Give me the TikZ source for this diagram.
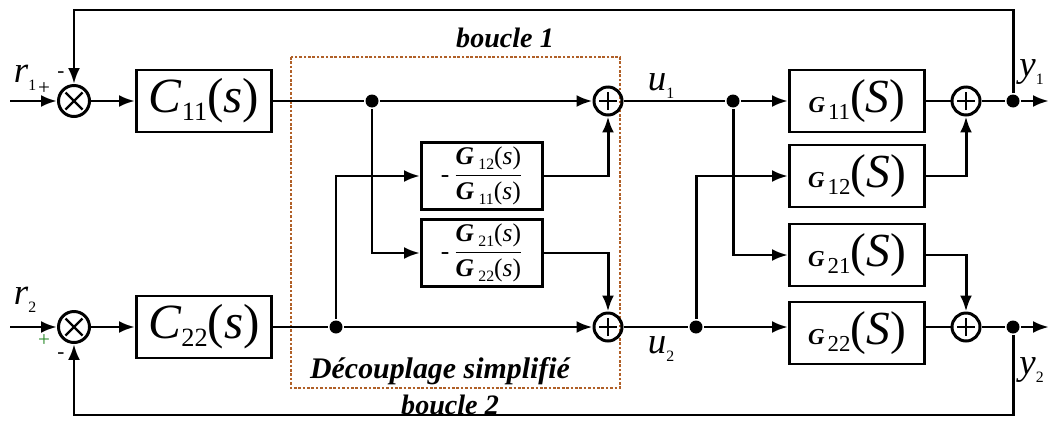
\documentclass[tikz,border=0pt]{standalone}
\usepackage{amsmath}
\usepackage{fontspec}
\setmainfont{Liberation Serif}
\usetikzlibrary{arrows.meta, positioning, calc}

\definecolor{decoup}{RGB}{176,96,40}
\newcommand{\cbig}[1]{{\fontsize{28}{28}\selectfont\textit{C}\raisebox{-0.35ex}{\fontsize{15}{15}\selectfont #1}(\textit{s})}}
\newcommand{\gbig}[1]{{\fontsize{13}{13}\selectfont\bfseries\itshape G}\,\raisebox{-0.9ex}{\fontsize{13}{13}\selectfont #1}{\fontsize{27}{27}\selectfont(\textit{S})}}
\newcommand{\gsmall}[1]{{\bfseries\itshape G}\,\raisebox{-0.4ex}{\fontsize{9}{9}\selectfont #1}(\textit{s})}
\newcommand{\sig}[2]{\textit{#1}\raisebox{-0.45ex}{\fontsize{9}{9}\selectfont #2}}

\begin{document}
\begin{tikzpicture}[
    x=0.2mm, y=-0.2mm,
    >={Latex[length=3.2mm,width=2.4mm]},
    line width=1.7pt,
    block/.style={draw, rectangle, minimum width=27mm, minimum height=12.4mm, inner sep=0pt},
    decblock/.style={draw, rectangle, minimum width=24.2mm, minimum height=13.4mm, inner sep=0pt,
      font=\fontsize{14.5}{14.5}\selectfont},
    mult/.style={draw, circle, minimum size=6.2mm, inner sep=0pt,
      path picture={\draw[line width=1.4pt]
        ($(path picture bounding box.center)+(-1.7mm,-1.7mm)$) -- ++(3.4mm,3.4mm)
        ($(path picture bounding box.center)+(-1.7mm,1.7mm)$) -- ++(3.4mm,-3.4mm);}},
    sum/.style={draw, circle, minimum size=5.6mm, inner sep=0pt,
      path picture={\draw[line width=1.4pt]
        ($(path picture bounding box.center)+(-1.8mm,0)$) -- ++(3.6mm,0)
        ($(path picture bounding box.center)+(0,-1.8mm)$) -- ++(0,3.6mm);}},
    dot/.style={circle, fill, inner sep=0pt, minimum size=2.6mm},
    lbl/.style={font=\fontsize{16}{16}\selectfont\bfseries\itshape},
    sgl/.style={font=\fontsize{21}{21}\selectfont}
  ]
  \useasboundingbox (0,0) rectangle (1049,422);

  % --- cadre du decouplage ---
  \draw[decoup, line width=1.5pt, densely dotted] (291,57) rectangle (620,388);
  \node[lbl] (b1) at (505,38) {boucle 1};
  \node[lbl, font=\fontsize{17}{17}\selectfont\bfseries\itshape] (dec) at (440,371) {Découplage simplifié};
  \node[lbl] (b2) at (450,405) {boucle 2};

  % --- correcteurs ---
  \coordinate (r1in) at (10,101);
  \coordinate (r2in) at (10,327);
  \node[mult] (sumA) at (74,101) {};
  \node[mult] (sumB) at (74,327) {};
  \node[block] (c11) at (204,101) {\cbig{11}};
  \node[block] (c22) at (204,327) {\cbig{22}};

  % --- decouplage ---
  \node[decblock] (d12) at (482,176) {-\,$\dfrac{\mbox{\gsmall{12}}}{\mbox{\gsmall{11}}}$};
  \node[decblock] (d21) at (482,253) {-\,$\dfrac{\mbox{\gsmall{21}}}{\mbox{\gsmall{22}}}$};
  \node[sum] (addA) at (608,101) {};
  \node[sum] (addB) at (608,327) {};
  \node[dot] (jA1) at (372,101) {};
  \node[dot] (jB1) at (336,327) {};

  % --- procede ---
  \node[block] (g11) at (857,101) {\gbig{11}};
  \node[block] (g12) at (857,176) {\gbig{12}};
  \node[block] (g21) at (857,255) {\gbig{21}};
  \node[block] (g22) at (857,333) {\gbig{22}};
  \node[sum] (outA) at (966,101) {};
  \node[sum] (outB) at (966,327) {};
  \node[dot] (jA2) at (733,101) {};
  \node[dot] (jB2) at (696,327) {};
  \node[dot] (yA) at (1013,101) {};
  \node[dot] (yB) at (1013,327) {};
  \coordinate (y1end) at (1049,101);
  \coordinate (y2end) at (1049,327);
  \coordinate (topline) at (0,10);
  \coordinate (botline) at (0,415);

  % --- conexions ---
  \draw[->] (r1in) -- (sumA);
  \draw[->] (r2in) -- (sumB);
  \draw[->] (sumA) -- (c11);
  \draw[->] (sumB) -- (c22);
  \draw (c11) -- (jA1);
  \draw[->] (jA1) -- (addA);
  \draw (c22) -- (jB1);
  \draw[->] (jB1) -- (addB);
  \draw[->] (jA1) |- (d21.west);
  \draw[->] (jB1) |- (d12.west);
  \draw[->] (d12.east) -| (addA.south);
  \draw[->] (d21.east) -| (addB.north);
  \draw (addA) -- (jA2);
  \draw (addB) -- (jB2);
  \draw[->] (jA2) -- (g11);
  \draw[->] (jB2) -- (jB2 -| g22.west);
  \draw[->] (jA2) |- (g21.west);
  \draw[->] (jB2) |- (g12.west);
  \draw (g11) -- (outA);
  \draw (g22.east |- outB) -- (outB);
  \draw[->] (g12.east) -| (outA.south);
  \draw[->] (g21.east) -| (outB.north);
  \draw (outA) -- (yA);
  \draw (outB) -- (yB);
  \draw[->] (yA) -- (y1end);
  \draw[->] (yB) -- (y2end);
  \draw[->] (yA) -- (yA |- topline) -| (sumA.north);
  \draw[->] (yB) -- (yB |- botline) -| (sumB.south);

  % --- etiquettes ---
  \node[sgl] (r1) at (25,78) {\sig{r}{1}};
  \node[sgl] (r2) at (25,300) {\sig{r}{2}};
  \node[font=\large] (pA) at (44,89) {+};
  \node[font=\large] (mA) at (61,75) {-};
  \node[font=\large, text=black!45!green!70!gray] (pB) at (44,341) {+};
  \node[font=\large] (mB) at (61,356) {-};
  \node[sgl] (u1) at (661,86) {\sig{u}{1}};
  \node[sgl] (u2) at (661,349) {\sig{u}{2}};
  \node[sgl, anchor=east] (y1) at (1051,72) {\sig{y}{1}};
  \node[sgl, anchor=east] (y2) at (1051,370) {\sig{y}{2}};
\end{tikzpicture}
\end{document}
